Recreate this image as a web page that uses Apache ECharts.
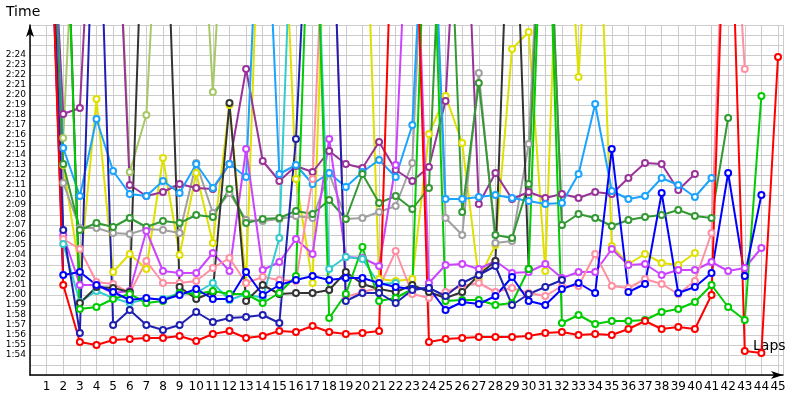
<!DOCTYPE html>
<html>
<head>
<meta charset="utf-8">
<script src="https://cdn.jsdelivr.net/npm/echarts@6/dist/echarts.min.js"></script>
<style>html,body{margin:0;background:#fff}#main{width:800px;height:400px}</style>
</head>
<body>
<div id="main"></div>
<script>
// lap times in seconds; X = off the top of the chart (pit / slow lap)
var X = 170;
var laps = [];
for (var i = 1; i <= 45; i++) laps.push(i);

var red = [X,121.0,115.3,115.0,115.5,115.6,115.7,115.7,115.9,115.4,116.1,116.4,115.7,115.9,116.4,116.3,116.9,116.3,116.1,116.2,116.4,X,X,115.3,115.6,115.7,115.8,115.8,115.8,115.9,116.2,116.3,116.0,116.1,116.0,116.6,117.4,116.6,116.8,116.6,120.0,X,114.4,114.2,143.8];
var navy = [X,126.5,116.2,X,117.0,118.5,117.0,116.5,117.0,118.3,117.3,117.7,117.8,118.0,117.2,135.6,X,X,119.4,120.2,120.2,119.2,120.5,120.7,119.9,121.2,122.0,122.9,119.0,120.1,120.8,121.5];
var blue = [X,122.0,122.3,121.0,120.3,119.5,119.7,119.5,120.0,120.6,119.6,119.6,122.3,120.0,121.0,121.5,121.9,121.5,121.7,121.7,121.2,120.8,120.6,120.7,118.5,119.3,119.1,119.9,121.8,119.4,119.0,120.6,121.2,120.2,134.6,120.3,121.1,130.2,120.2,120.8,122.2,132.2,121.9,130.0];
var green = [X,X,118.6,118.8,119.6,120.1,119.2,119.4,120.2,120.1,120.4,120.1,120.1,119.2,120.2,121.9,X,117.7,120.1,124.8,119.4,119.7,120.6,X,119.4,119.5,119.5,119.0,119.2,122.6,X,117.2,118.0,117.1,117.4,117.4,117.5,118.3,118.6,119.3,121.0,118.8,117.5,139.9];
var darkGreen = [X,133.1,126.5,127.2,126.8,127.7,126.8,127.4,127.2,128.0,127.8,130.6,127.2,127.6,127.7,128.4,128.1,129.5,127.6,132.1,129.2,129.9,128.6,130.7,X,128.3,141.2,126.0,125.7,131.1,X,127.0,128.1,127.7,126.9,127.5,127.8,128.0,128.5,127.9,127.7,137.7];
var skyBlue = [X,134.7,129.9,137.6,132.4,130.1,129.9,131.4,130.2,133.1,130.7,133.1,131.8,X,132.1,133.0,131.1,132.2,130.8,132.3,133.5,131.8,137.0,X,129.6,129.6,129.8,130.0,129.7,129.4,129.1,129.2,132.1,139.1,130.4,129.6,129.9,131.7,131.0,129.8,131.7];
var purple = [X,138.1,138.7,X,X,131.0,129.9,130.3,131.1,130.7,130.6,133.1,142.6,133.4,131.4,132.9,132.3,134.4,133.1,132.7,135.3,132.5,131.4,132.8,139.4,X,129.1,132.2,129.6,130.3,129.7,130.1,129.7,130.3,130.1,131.7,133.2,133.1,130.5,132.1];
var gray = [X,131.2,126.7,126.7,126.2,126.1,126.6,126.5,126.2,133.2,128.2,130.2,127.5,127.4,127.6,127.9,127.7,132.2,127.6,127.7,128.3,128.9,133.2,X,127.7,126.0,142.2,125.2,125.4,135.1,X,127.0];
var black = [X,X,119.2,120.8,120.7,120.3,X,X,120.8,119.6,120.3,139.2,119.4,121.0,120.1,120.2,120.2,120.5,122.3,121.1,120.6,120.3,121.0,120.3,119.7,120.3,122.0,123.4,X,122.6];
var yellow = [X,133.0,122.3,139.6,122.3,124.1,122.6,133.7,124.0,132.2,125.2,139.0,121.2,X,X,131.6,121.2,X,X,X,121.6,121.4,121.6,136.1,139.9,135.2,121.6,125.0,144.6,146.3,122.4,X,141.8,X,124.9,123.1,124.1,123.2,123.0,124.2];
var violet = [X,126.0,121.0,121.0,120.2,120.4,126.4,122.4,122.2,122.2,124.2,122.4,134.6,122.5,123.3,125.6,124.1,135.6,123.8,123.7,122.9,133.0,X,121.2,123.0,123.1,122.6,123.4,122.2,122.3,123.1,121.7,122.3,122.3,124.6,123.0,123.1,122.0,122.5,122.5,123.3,122.4,122.7,124.7];
var pink = [X,125.6,124.6,121.3,121.1,120.2,123.4,121.2,121.2,121.4,122.7,123.7,121.2,121.8,121.5,121.4,131.6,X,119.8,120.3,120.7,124.4,120.1,119.7,120.3,120.9,121.2,120.3,120.7,120.2,119.9,120.9,120.9,124.1,120.9,120.7,121.6,121.1,120.1,121.4,126.2,X,142.6];
var cyan = [X,125.1,119.3,120.4,119.7,119.2,119.6,119.6,120.2,120.2,121.2,119.5,120.1,119.7,125.7,X,X,122.6,123.8,123.6,121.1,121.2];
var lightGreen = [X,135.7,X,X,X,132.3,138.0,X,X,X,140.3,X];

var seriesList = [
  ['lightGreen', lightGreen, '#a8c868'],
  ['yellow', yellow, '#e0e000'],
  ['gray', gray, '#a0a0a0'],
  ['purple', purple, '#993399'],
  ['skyBlue', skyBlue, '#1aa3ff'],
  ['darkGreen', darkGreen, '#339933'],
  ['violet', violet, '#cc44ff'],
  ['pink', pink, '#ff8fa3'],
  ['cyan', cyan, '#33cccc'],
  ['black', black, '#333333'],
  ['green', green, '#00cc00'],
  ['blue', blue, '#0000ff'],
  ['navy', navy, '#2020b0'],
  ['red', red, '#ff0000']
];

function fmt(v) {
  var m = Math.floor(v / 60), s = Math.round(v - m * 60);
  return m + ':' + (s < 10 ? '0' : '') + s;
}

var chart = echarts.init(document.getElementById('main'));
chart.setOption({
  animation: false,
  grid: {left: 30, right: 17, top: 25, bottom: 25},
  xAxis: {
    type: 'value', min: 0, max: 45.3, interval: 1,
    name: 'Laps', nameLocation: 'end', nameGap: -30,
    nameTextStyle: {fontSize: 14, color: '#000', verticalAlign: 'bottom', padding: [0, 0, 22, 0], fontFamily: 'DejaVu Sans'},
    axisLine: {lineStyle: {color: '#000', width: 1.5}, symbol: ['none', 'arrow'], symbolSize: [6, 12]},
    axisTick: {show: false},
    axisLabel: {color: '#000', fontSize: 12, fontFamily: 'DejaVu Sans', margin: 6,
      formatter: function (v) { return v >= 1 && v <= 45 ? v : ''; }},
    splitLine: {lineStyle: {color: '#cccccc'}}
  },
  yAxis: {
    type: 'value', min: 112, max: 147, interval: 1,
    name: 'Time', nameLocation: 'end', nameGap: 6,
    nameTextStyle: {fontSize: 14, color: '#000', align: 'left', padding: [0, 0, 0, -24], fontFamily: 'DejaVu Sans'},
    axisLine: {show: true, lineStyle: {color: '#000', width: 1.5}, symbol: ['none', 'arrow'], symbolSize: [6, 12]},
    axisTick: {show: false},
    axisLabel: {color: '#000', fontSize: 9, fontFamily: 'DejaVu Sans', margin: 4,
      formatter: function (v) { return v >= 114 && v <= 144 ? fmt(v) : ''; }},
    splitLine: {lineStyle: {color: '#cccccc'}}
  },
  series: seriesList.map(function (s) {
    return {
      name: s[0], type: 'line', clip: true,
      data: s[1].map(function (v, i) { return [laps[i], v]; }),
      symbol: 'emptyCircle', symbolSize: 6,
      lineStyle: {width: 2, color: s[2]},
      itemStyle: {color: s[2], borderWidth: 1.2}
    };
  })
});
</script>
</body>
</html>
